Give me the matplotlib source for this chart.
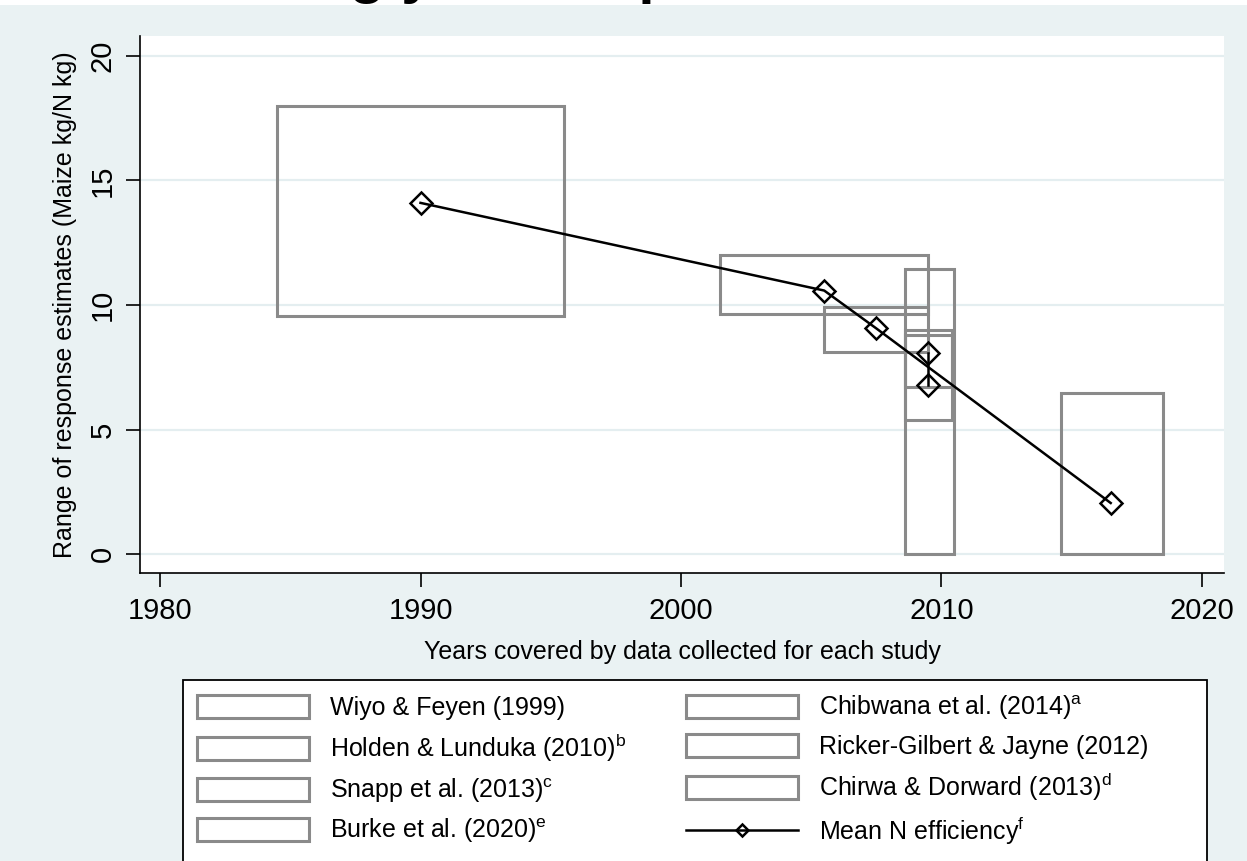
import numpy as np
import matplotlib
matplotlib.use('Agg')
import matplotlib.pyplot as plt
from matplotlib.patches import Patch, Rectangle
from matplotlib.lines import Line2D

plt.rcParams['font.family'] = ['Liberation Sans', 'DejaVu Sans']
plt.rcParams['mathtext.fontset'] = 'custom'
plt.rcParams['mathtext.rm'] = 'Liberation Sans'

# datos de cada estudio: rango de años y rango de estimaciones
estudios = ['Wiyo & Feyen (1999)', 'Chibwana et al. (2014)$^{\\rm a}$',
            'Holden & Lunduka (2010)$^{\\rm b}$', 'Ricker-Gilbert & Jayne (2012)',
            'Snapp et al. (2013)$^{\\rm c}$', 'Chirwa & Dorward (2013)$^{\\rm d}$',
            'Burke et al. (2020)$^{\\rm e}$']
anio_ini = [1984.5, 2008.6, 2005.5, 2001.5, 2008.6, 2008.6, 2014.6]
anio_fin = [1995.5, 2010.5, 2009.5, 2009.5, 2010.4, 2010.4, 2018.5]
resp_min = [9.55, 0.0, 8.1, 9.65, 5.4, 6.7, 0.0]
resp_max = [18.0, 11.45, 9.9, 12.0, 9.0, 8.8, 6.45]

# eficiencia media de N (orden de los datos, conexion tipo L de Stata)
media_x = [1990.0, 2005.5, 2007.5, 2016.5, 2009.5, 2009.5]
media_y = [14.1, 10.58, 9.06, 2.05, 8.07, 6.8]
etiqueta_media = 'Mean N efficiency$^{\\rm f}$'

fondo = '#EAF2F3'
gris = '#8A8A8A'

fig = plt.figure(figsize=(12.47, 8.61), dpi=100)
fig.patch.set_facecolor('white')
fig.add_artist(Rectangle((0, 0), 1, 1 - 5 / 861, transform=fig.transFigure,
                         facecolor=fondo, edgecolor='none', zorder=-10))
# titulo recortado en la parte superior
fig.text(122 / 1247, 1 + 8.5 / 861, 'Declining yield response', fontsize=42,
         fontweight='bold', ha='left', va='baseline', color='black')

ax = fig.add_axes([140 / 1247, 1 - 573 / 861, 1084 / 1247, 537 / 861])
ax.set_facecolor('white')

alto = np.array(resp_max) - np.array(resp_min)
ancho = np.array(anio_fin) - np.array(anio_ini)
ax.bar(anio_ini, alto, width=ancho, bottom=resp_min, align='edge',
       fill=False, edgecolor=gris, linewidth=2.2, zorder=3)

# dividir la linea donde x retrocede
cortes = [0] + [i for i in range(1, len(media_x)) if media_x[i] < media_x[i - 1]] + [len(media_x)]
for a, b in zip(cortes[:-1], cortes[1:]):
    ax.plot(media_x[a:b], media_y[a:b], color='black', lw=1.8, marker='D',
            ms=11, mfc='none', mec='black', mew=1.8, zorder=4)

ax.set_xlim(1979.23, 2020.85)
ax.set_ylim(-0.76, 20.8)
ax.set_xticks([1980, 1990, 2000, 2010, 2020])
ax.set_yticks([0, 5, 10, 15, 20])
ax.yaxis.grid(True, color='#E4EEF0', lw=1.6, zorder=0)
ax.set_axisbelow(True)
for s in ['top', 'right']:
    ax.spines[s].set_visible(False)
for s in ['left', 'bottom']:
    ax.spines[s].set_linewidth(1.2)
ax.tick_params(axis='both', length=10, width=1.2, labelsize=21, pad=7)
ax.tick_params(axis='y', labelrotation=90)
for t in ax.get_yticklabels():
    t.set_va('center')

ax.set_xlabel('Years covered by data collected for each study', fontsize=18, labelpad=11)
ax.set_ylabel('Range of response estimates (Maize kg/N kg)', fontsize=18, labelpad=8)

# marco de la leyenda (se sale por abajo, como en la original)
fig.add_artist(Rectangle((183 / 1247, -0.05), 1024 / 1247, 0.05 + 1 - 680 / 861,
                         transform=fig.transFigure, facecolor='white',
                         edgecolor='black', linewidth=1.3, zorder=1))

# leyenda: columna 1 y columna 2
orden = [0, 2, 4, 6, 1, 3, 5]
handles = [Patch(facecolor='white', edgecolor=gris, linewidth=2.2) for _ in orden]
labels = [estudios[i] for i in orden]
handles.append(Line2D([], [], color='black', lw=1.8, marker='D', ms=11,
                      mfc='none', mec='black', mew=1.8))
labels.append(etiqueta_media)
leg = fig.legend(handles, labels, ncol=2, loc='upper left',
                 bbox_to_anchor=(183 / 1247, 1 - 680 / 861),
                 borderaxespad=0, fontsize=18, frameon=False,
                 handlelength=4.5, handleheight=1.04, columnspacing=2.4,
                 labelspacing=0.48, handletextpad=0.82, borderpad=0.54,
                 markerscale=0.6)
leg.set_zorder(2)

fig.savefig('out.png', dpi=100, facecolor=fig.get_facecolor())
